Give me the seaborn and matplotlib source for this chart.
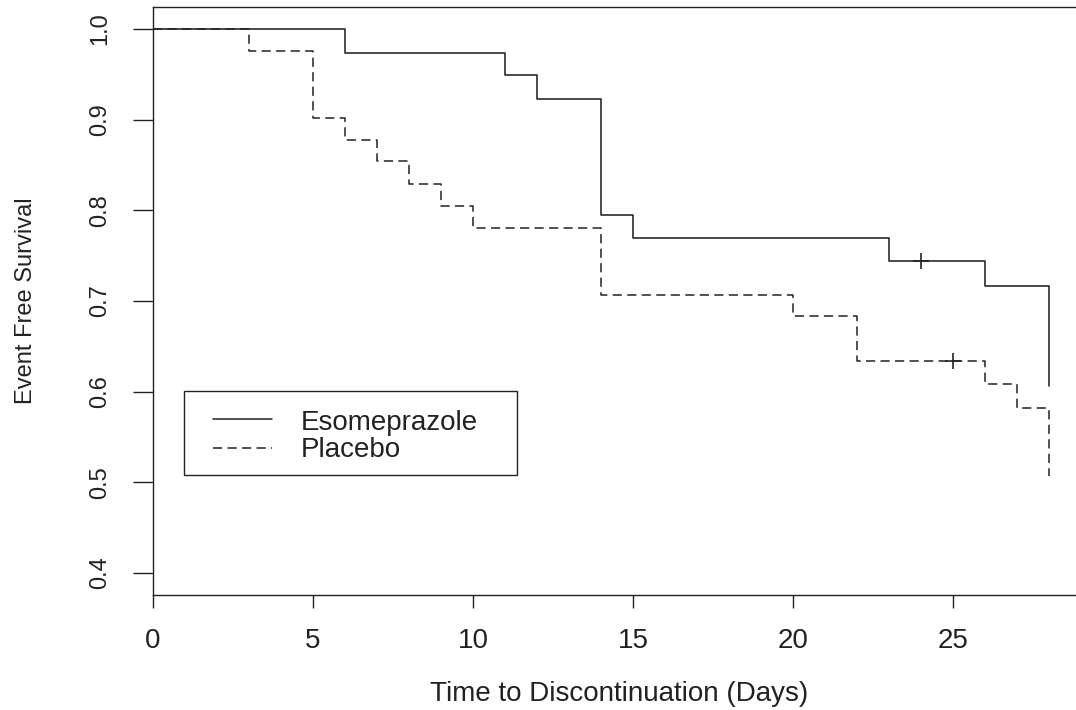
import matplotlib
matplotlib.use("Agg")
import matplotlib.pyplot as plt
from matplotlib.lines import Line2D
from matplotlib.patches import Rectangle
import seaborn as sns
import pandas as pd

# Kaplan-Meier step values
groups = ["Esomeprazole", "Placebo"]
eso_time = [0, 6, 11, 12, 14, 15, 23, 26, 28]
eso_surv = [1.0, 0.974, 0.949, 0.923, 0.795, 0.769, 0.744, 0.717, 0.606]
pla_time = [0, 3, 5, 6, 7, 8, 9, 10, 14, 20, 22, 26, 27, 28]
pla_surv = [1.0, 0.976, 0.902, 0.878, 0.854, 0.829, 0.805, 0.780, 0.707,
            0.683, 0.634, 0.608, 0.582, 0.507]
censor_group = ["Esomeprazole", "Placebo"]
censor_time = [24, 25]
censor_surv = [0.744, 0.634]
x_ticks = [0, 5, 10, 15, 20, 25]
y_ticks = [0.4, 0.5, 0.6, 0.7, 0.8, 0.9, 1.0]

sns.set_theme(style="white")
plt.rcParams["font.family"] = ["Liberation Sans", "DejaVu Sans"]

W, H = 1076, 710


def fx(px):
    return px / W


def fy(py):
    return 1 - py / H


eso = pd.DataFrame({"time": eso_time, "surv": eso_surv})
pla = pd.DataFrame({"time": pla_time, "surv": pla_surv})
cens = pd.DataFrame({"time": censor_time, "surv": censor_surv, "group": censor_group})

ink = "#222222"
dash = (6, 3.5)

fig = plt.figure(figsize=(W / 100, H / 100), dpi=100)
# R-style box: x starts at 0, runs 4% past the last time; right edge falls off the canvas
ax = fig.add_axes([fx(153), fy(595), 931.8 / W, 588 / H])

# placebo first, so the solid curve covers it where both sit at 1.0
sns.lineplot(data=pla, x="time", y="surv", color=ink, dashes=False,
             drawstyle="steps-post", linewidth=1.1, estimator=None, ax=ax,
             zorder=2).lines[-1].set_dashes(dash)
sns.lineplot(data=eso, x="time", y="surv", color=ink,
             drawstyle="steps-post", linewidth=1.15, estimator=None, ax=ax,
             zorder=3)
sns.scatterplot(data=cens, x="time", y="surv", marker="+", s=130,
                color=ink, linewidth=1.2, legend=False, ax=ax, zorder=4)

ax.set_xlim(0, 29.12)
ax.set_ylim(0.3757, 1.0243)
ax.set_xticks(x_ticks)
ax.set_yticks(y_ticks)
ax.set_xticklabels([str(t) for t in x_ticks], fontsize=20, color=ink)
ax.set_yticklabels([f"{t:.1f}" for t in y_ticks], fontsize=17, color=ink,
                   rotation=90, va="center")
ax.tick_params(axis="x", direction="out", length=9.4, width=1.0, color=ink,
               pad=14, bottom=True)
ax.tick_params(axis="y", direction="out", length=14.4, width=1.0, color=ink,
               pad=15.5, left=True)
for s in ax.spines.values():
    s.set_color(ink)
    s.set_linewidth(1.0)

ax.set_xlabel("Time to Discontinuation (Days)", fontsize=20, color=ink)
ax.set_ylabel("Event Free Survival", fontsize=17, color=ink)
ax.xaxis.set_label_coords(0.5, -0.146)
ax.yaxis.set_label_coords(-0.124, 0.5)

# R-style legend box, placed by hand
fig.add_artist(Rectangle((fx(184), fy(475)), fx(517) - fx(184), fy(391) - fy(475),
                         transform=fig.transFigure, fill=False,
                         edgecolor=ink, linewidth=1.0))
for g, row_y, base_y, ls in [(groups[0], 419, 430, ""), (groups[1], 448, 457, dash)]:
    line = Line2D([fx(213), fx(272)], [fy(row_y), fy(row_y)],
                  transform=fig.transFigure, color=ink, lw=1.1)
    if ls:
        line.set_dashes(ls)
    fig.add_artist(line)
    fig.text(fx(301), fy(base_y), g, fontsize=20, color=ink,
             ha="left", va="baseline")

fig.savefig("out.png", dpi=100)
